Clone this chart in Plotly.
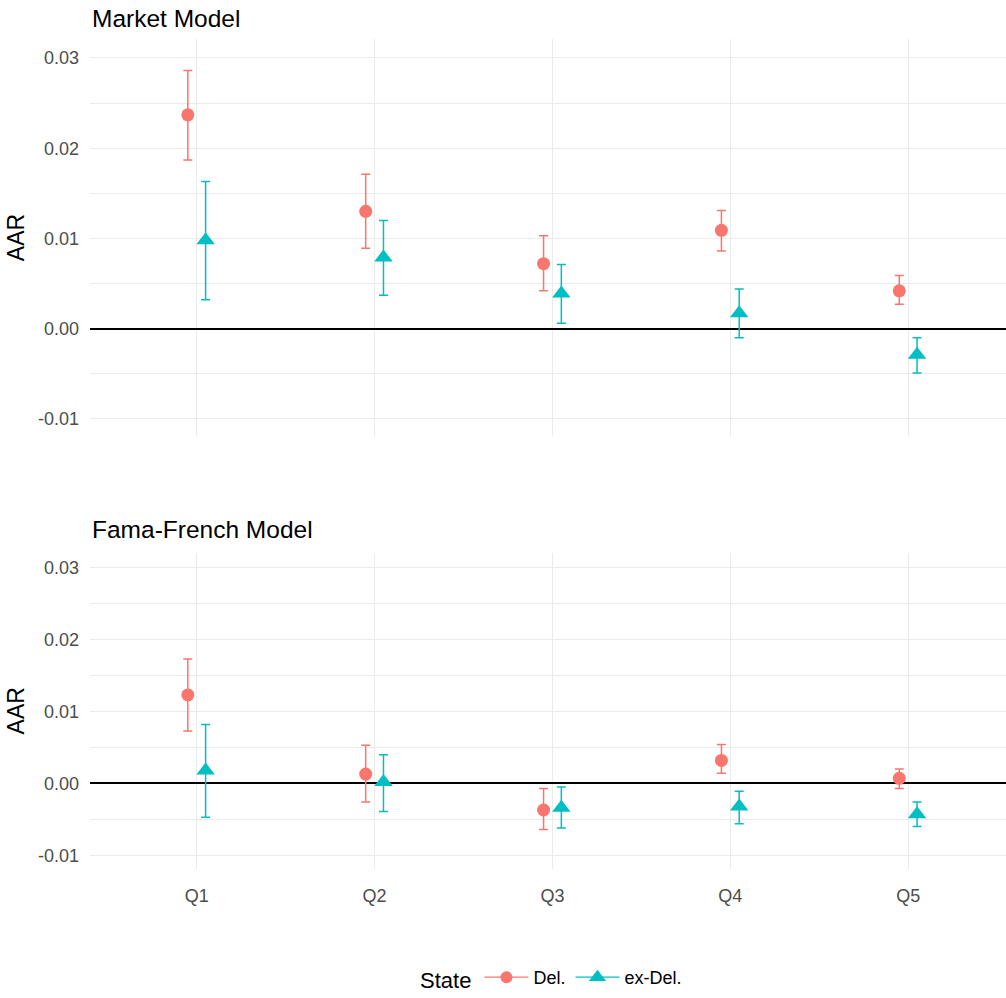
import plotly.graph_objects as go

# Quintile categories and dodge offset for the two states
quintiles = ["Q1", "Q2", "Q3", "Q4", "Q5"]
states = ["Del.", "ex-Del."]
dodge = [-0.05, 0.05]

# Market Model: average abnormal returns with confidence bounds
mm_del_est = [0.0237, 0.0130, 0.0072, 0.0109, 0.0042]
mm_del_lo = [0.0187, 0.0089, 0.0042, 0.0086, 0.0027]
mm_del_hi = [0.0286, 0.0171, 0.0103, 0.0131, 0.0059]
mm_ex_est = [0.0098, 0.0079, 0.0039, 0.0017, -0.0029]
mm_ex_lo = [0.0032, 0.0037, 0.0006, -0.0010, -0.0049]
mm_ex_hi = [0.0163, 0.0120, 0.0071, 0.0044, -0.0010]

# Fama-French Model
ff_del_est = [0.0123, 0.0013, -0.0037, 0.0032, 0.0007]
ff_del_lo = [0.0073, -0.0026, -0.0064, 0.0014, -0.0007]
ff_del_hi = [0.0173, 0.0053, -0.0007, 0.0054, 0.0020]
ff_ex_est = [0.0018, 0.0002, -0.0034, -0.0032, -0.0043]
ff_ex_lo = [-0.0047, -0.0039, -0.0062, -0.0056, -0.0060]
ff_ex_hi = [0.0082, 0.0040, -0.0005, -0.0011, -0.0026]

y_ticks = [-0.01, 0.00, 0.01, 0.02, 0.03]
y_tick_labels = ["-0.01", "0.00", "0.01", "0.02", "0.03"]

colors = ["#F8766D", "#00BFC4"]
symbols = ["circle", "triangle-up"]
sizes = [13, 16]

FONT = "Liberation Sans, Arial, sans-serif"
GRID = "#EBEBEB"

panels = [
    ("x", "y", [(mm_del_est, mm_del_lo, mm_del_hi), (mm_ex_est, mm_ex_lo, mm_ex_hi)]),
    ("x2", "y2", [(ff_del_est, ff_del_lo, ff_del_hi), (ff_ex_est, ff_ex_lo, ff_ex_hi)]),
]

fig = go.Figure()
for xa, ya, series in panels:
    for k, (est, lo, hi) in enumerate(series):
        xs = [i + 1 + dodge[k] for i in range(len(quintiles))]
        fig.add_trace(go.Scatter(
            x=xs, y=est, xaxis=xa, yaxis=ya, mode="markers",
            marker=dict(symbol=symbols[k], size=sizes[k], color=colors[k],
                        line=dict(width=0)),
            error_y=dict(type="data", symmetric=False,
                         array=[h - e for h, e in zip(hi, est)],
                         arrayminus=[e - l for e, l in zip(est, lo)],
                         color=colors[k], thickness=1.5, width=4.5),
            showlegend=False, name=states[k], cliponaxis=False,
        ))

# Legend entries: marker with a horizontal stroke
for k in range(2):
    fig.add_trace(go.Scatter(
        x=[None], y=[None], mode="lines+markers", name=states[k],
        marker=dict(symbol=symbols[k], size=sizes[k] - 1, color=colors[k]),
        line=dict(color=colors[k], width=1.2), showlegend=True,
    ))

yrange = [-0.0119, 0.0321]
xrange = [0.4, 5.55]

yaxis_common = dict(
    range=yrange, tickvals=y_ticks, ticktext=y_tick_labels,
    showgrid=True, gridcolor=GRID, gridwidth=1.3,
    minor=dict(dtick=0.005, tick0=0, showgrid=True, gridcolor=GRID, gridwidth=1),
    zeroline=True, zerolinecolor="black", zerolinewidth=1.6,
    showline=False, ticks="", ticklabelstandoff=10,
    tickfont=dict(family=FONT, size=18, color="#4D4D4D"),
    title=dict(text="AAR", font=dict(family=FONT, size=23, color="black"), standoff=6),
)
xaxis_common = dict(
    range=xrange, tickvals=[1, 2, 3, 4, 5], ticktext=quintiles,
    showgrid=True, gridcolor=GRID, gridwidth=1.3, zeroline=False,
    showline=False, ticks="",
    tickfont=dict(family=FONT, size=18, color="#4D4D4D"),
)

fig.update_layout(
    width=1006, height=998,
    margin=dict(l=90, r=0, t=39, b=125),
    paper_bgcolor="white", plot_bgcolor="white",
    font=dict(family=FONT),
    xaxis=dict(xaxis_common, domain=[0, 1], anchor="y", showticklabels=False),
    yaxis=dict(yaxis_common, domain=[0.5216, 1.0], anchor="x"),
    xaxis2=dict(xaxis_common, domain=[0, 1], anchor="y2", showticklabels=True,
                ticklabelstandoff=14),
    yaxis2=dict(yaxis_common, domain=[0.0, 0.3813], anchor="x2"),
    legend=dict(
        orientation="h", x=0.505, xanchor="center", y=-0.132, yanchor="middle",
        title=dict(text="State", font=dict(family=FONT, size=22, color="black"), side="left"),
        font=dict(family=FONT, size=18, color="black"),
        itemwidth=44,
        bgcolor="rgba(0,0,0,0)",
    ),
    annotations=[
        dict(text="Market Model", xref="paper", yref="paper", x=0, y=1.025,
             xanchor="left", yanchor="middle", showarrow=False,
             font=dict(family=FONT, size=24.5, color="black")),
        dict(text="Fama-French Model", xref="paper", yref="paper", x=0, y=0.4085,
             xanchor="left", yanchor="middle", showarrow=False,
             font=dict(family=FONT, size=24.5, color="black")),
    ],
)

fig.write_html("out.html")
